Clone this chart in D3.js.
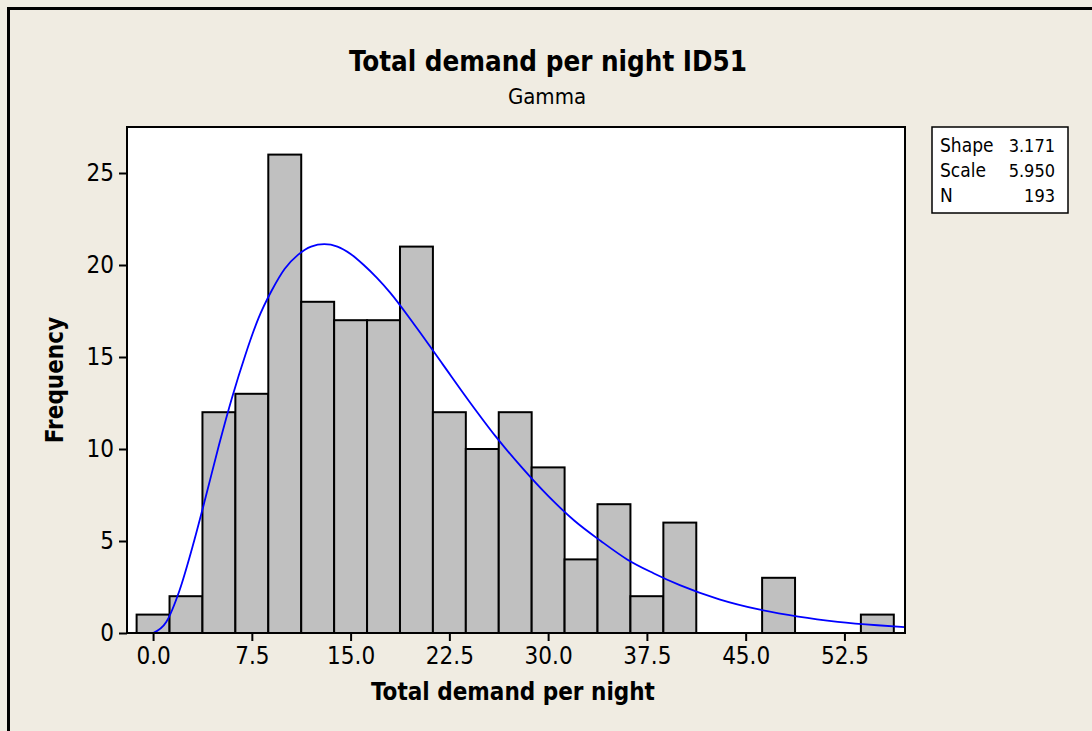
<!DOCTYPE html>
<html>
<head>
<meta charset="utf-8">
<script src="https://cdn.jsdelivr.net/npm/d3@7"></script>
<style>
html,body{margin:0;padding:0;background:#F0ECE2;}
svg{display:block;}
text{font-family:"DejaVu Sans Condensed","DejaVu Sans",sans-serif;font-stretch:condensed;fill:#000;}
</style>
</head>
<body>
<script>
// ---- data ----
const binCenters = [0,2.5,5,7.5,10,12.5,15,17.5,20,22.5,25,27.5,30,32.5,35,37.5,40,42.5,45,47.5,50,52.5,55];
const frequencies = [1,2,12,13,26,18,17,17,21,12,10,12,9,4,7,2,6,0,0,3,0,0,1];
const binWidth = 2.5;
const xTicks = [0,7.5,15,22.5,30,37.5,45,52.5];
const yTicks = [0,5,10,15,20,25];
// fitted gamma curve (x, frequency)
const curveX = [0,1,2,3,4,5,6,7,8,9,10,11,12,13,14,15,16,17,18,20,22,24,26,28,30,32,34,36,38,40,43,46,49,52,55,57.1];
const curveY = [0,0.6,2.3,4.7,7.4,10.2,12.8,15.1,17.1,18.6,19.8,20.55,21.0,21.13,21.0,20.6,20.0,19.3,18.5,16.6,14.6,12.6,10.7,9.0,7.45,6.1,5.0,4.0,3.25,2.6,1.83,1.28,0.89,0.61,0.42,0.32];
const legendLabels = ["Shape","Scale","N"];
const legendValues = ["3.171","5.950","193"];

const W = 1092, H = 731;
const svg = d3.select("body").append("svg").attr("width", W).attr("height", H);

svg.append("rect").attr("x",0).attr("y",0).attr("width",W).attr("height",H).attr("fill","#F0ECE2");
// outer frame
svg.append("rect").attr("x",8.5).attr("y",8.5).attr("width",W+20).attr("height",H+20)
  .attr("fill","none").attr("stroke","#000").attr("stroke-width",3);

const L = 127, R = 905, T = 127, B = 633;
const x = d3.scaleLinear().domain([-1.98, 57.1]).range([L, R]);
const y = d3.scaleLinear().domain([0, 27.5]).range([B, T]);

// plot area
svg.append("rect").attr("x",L).attr("y",T).attr("width",R-L).attr("height",B-T)
  .attr("fill","#fff");

// bars
svg.append("g").selectAll("rect")
  .data(binCenters.map((c,i)=>({c, f: frequencies[i]})).filter(d=>d.f>0))
  .join("rect")
  .attr("x", d => x(d.c - binWidth/2))
  .attr("y", d => y(d.f))
  .attr("width", d => x(d.c + binWidth/2) - x(d.c - binWidth/2))
  .attr("height", d => y(0) - y(d.f))
  .attr("fill", "#C0C0C0")
  .attr("stroke", "#000")
  .attr("stroke-width", 2);

// curve
const line = d3.line().x(d=>x(d[0])).y(d=>y(d[1])).curve(d3.curveMonotoneX);
svg.append("path").datum(curveX.map((v,i)=>[v, curveY[i]]))
  .attr("d", line).attr("fill","none").attr("stroke","#0000FF").attr("stroke-width",1.8);

// plot border
svg.append("rect").attr("x",L).attr("y",T).attr("width",R-L).attr("height",B-T)
  .attr("fill","none").attr("stroke","#000").attr("stroke-width",2);

// axes
const xAxis = d3.axisBottom(x).tickValues(xTicks).tickFormat(d3.format(".1f")).tickSize(8).tickPadding(6);
const gx = svg.append("g").attr("transform",`translate(0,${B})`).call(xAxis);
gx.select(".domain").remove();
gx.selectAll("line").attr("stroke","#000").attr("stroke-width",2);
gx.selectAll("text").attr("font-size",24).attr("font-family",null);

const yAxis = d3.axisLeft(y).tickValues(yTicks).tickSize(8).tickPadding(5);
const gy = svg.append("g").attr("transform",`translate(${L},0)`).call(yAxis);
gy.select(".domain").remove();
gy.selectAll("line").attr("stroke","#000").attr("stroke-width",2);
gy.selectAll("text").attr("font-size",24).attr("font-family",null);

// titles
svg.append("text").attr("x",548).attr("y",71).attr("text-anchor","middle")
  .attr("font-size",27.5).attr("font-weight","bold").text("Total demand per night ID51");
svg.append("text").attr("x",547).attr("y",104).attr("text-anchor","middle")
  .attr("font-size",22).text("Gamma");
svg.append("text").attr("x",513).attr("y",700).attr("text-anchor","middle")
  .attr("font-size",24).attr("font-weight","bold").text("Total demand per night");
svg.append("text").attr("transform","translate(63,380) rotate(-90)").attr("text-anchor","middle")
  .attr("font-size",24).attr("font-weight","bold").text("Frequency");

// legend box
svg.append("rect").attr("x",932).attr("y",127).attr("width",136).attr("height",86)
  .attr("fill","#fff").attr("stroke","#000").attr("stroke-width",1.5);
legendLabels.forEach((lab,i)=>{
  svg.append("text").attr("x",940).attr("y",152+i*25).attr("font-size",19).text(lab);
  svg.append("text").attr("x",1055).attr("y",152+i*25).attr("text-anchor","end").attr("font-size",18).text(legendValues[i]);
});
</script>
</body>
</html>
